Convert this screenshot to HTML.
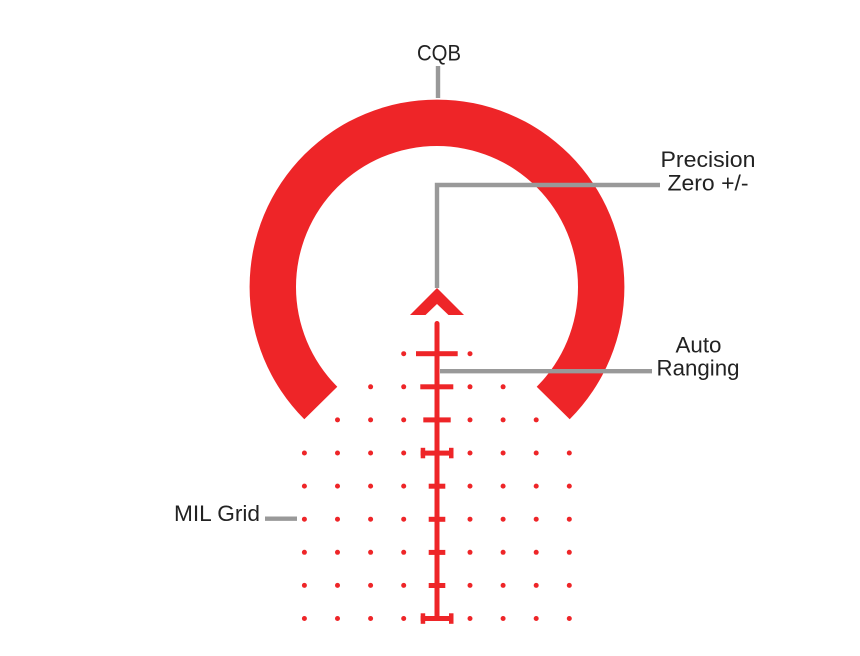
<!DOCTYPE html>
<html>
<head>
<meta charset="utf-8">
<style>
html,body{margin:0;padding:0;background:#fff;width:860px;height:656px;overflow:hidden}
svg{display:block}
text{font-family:"Liberation Sans",sans-serif;font-size:22px;fill:#222}
</style>
</head>
<body>
<svg width="860" height="656" viewBox="0 0 860 656" xmlns="http://www.w3.org/2000/svg">
<!-- Ring -->
<path fill="#ee2528" d="M304.3 419.3A187.4 187.4 0 1 1 569.7 419.3L536.7 386.7A141 141 0 1 0 337.3 386.7Z"/>
<!-- Gray leaders -->
<g fill="none" stroke="#999" stroke-width="4.4">
  <path d="M438 66V98"/>
  <path d="M437 288V185H660"/>
  <path d="M440 371.2H652"/>
  <path d="M265 518.7H297"/>
</g>
<!-- Chevron -->
<path fill="#ee2528" d="M437 288L464 315H448.5L437 304L425.5 315H410Z"/>
<!-- Vertical stem -->
<path fill="none" stroke="#ee2528" stroke-width="5" stroke-linecap="round" d="M437 323.5V618"/>
<!-- Ticks -->
<g fill="#ee2528">
  <rect x="416" y="351.2" width="41.7" height="5"/>
  <rect x="420.3" y="384.3" width="33" height="5"/>
  <rect x="423.3" y="417.4" width="27.4" height="5"/>
  <rect x="420.7" y="450.6" width="32.8" height="5"/>
  <rect x="420.7" y="447.8" width="4.5" height="10.5"/>
  <rect x="449" y="447.8" width="4.5" height="10.5"/>
  <rect x="428.7" y="483.7" width="16.6" height="5"/>
  <rect x="428.7" y="516.8" width="16.6" height="5"/>
  <rect x="428.7" y="549.9" width="16.6" height="5"/>
  <rect x="428.7" y="583" width="16.6" height="5"/>
  <rect x="420.7" y="616" width="32.8" height="5"/>
  <rect x="420.7" y="613.3" width="4.5" height="10.5"/>
  <rect x="449" y="613.3" width="4.5" height="10.5"/>
</g>
<!-- Dots -->
<g fill="#ee2528">
  <circle cx="403.7" cy="353.7" r="2.5"/><circle cx="470" cy="353.7" r="2.5"/>
  <circle cx="370.6" cy="386.8" r="2.5"/><circle cx="403.7" cy="386.8" r="2.5"/><circle cx="470" cy="386.8" r="2.5"/><circle cx="503.1" cy="386.8" r="2.5"/>
  <circle cx="337.5" cy="419.9" r="2.5"/><circle cx="370.6" cy="419.9" r="2.5"/><circle cx="403.7" cy="419.9" r="2.5"/><circle cx="470" cy="419.9" r="2.5"/><circle cx="503.1" cy="419.9" r="2.5"/><circle cx="536.2" cy="419.9" r="2.5"/>
  <circle cx="304.4" cy="453" r="2.5"/><circle cx="337.5" cy="453" r="2.5"/><circle cx="370.6" cy="453" r="2.5"/><circle cx="403.7" cy="453" r="2.5"/><circle cx="470" cy="453" r="2.5"/><circle cx="503.1" cy="453" r="2.5"/><circle cx="536.2" cy="453" r="2.5"/><circle cx="569.3" cy="453" r="2.5"/>
  <circle cx="304.4" cy="486.1" r="2.5"/><circle cx="337.5" cy="486.1" r="2.5"/><circle cx="370.6" cy="486.1" r="2.5"/><circle cx="403.7" cy="486.1" r="2.5"/><circle cx="470" cy="486.1" r="2.5"/><circle cx="503.1" cy="486.1" r="2.5"/><circle cx="536.2" cy="486.1" r="2.5"/><circle cx="569.3" cy="486.1" r="2.5"/>
  <circle cx="304.4" cy="519.2" r="2.5"/><circle cx="337.5" cy="519.2" r="2.5"/><circle cx="370.6" cy="519.2" r="2.5"/><circle cx="403.7" cy="519.2" r="2.5"/><circle cx="470" cy="519.2" r="2.5"/><circle cx="503.1" cy="519.2" r="2.5"/><circle cx="536.2" cy="519.2" r="2.5"/><circle cx="569.3" cy="519.2" r="2.5"/>
  <circle cx="304.4" cy="552.3" r="2.5"/><circle cx="337.5" cy="552.3" r="2.5"/><circle cx="370.6" cy="552.3" r="2.5"/><circle cx="403.7" cy="552.3" r="2.5"/><circle cx="470" cy="552.3" r="2.5"/><circle cx="503.1" cy="552.3" r="2.5"/><circle cx="536.2" cy="552.3" r="2.5"/><circle cx="569.3" cy="552.3" r="2.5"/>
  <circle cx="304.4" cy="585.4" r="2.5"/><circle cx="337.5" cy="585.4" r="2.5"/><circle cx="370.6" cy="585.4" r="2.5"/><circle cx="403.7" cy="585.4" r="2.5"/><circle cx="470" cy="585.4" r="2.5"/><circle cx="503.1" cy="585.4" r="2.5"/><circle cx="536.2" cy="585.4" r="2.5"/><circle cx="569.3" cy="585.4" r="2.5"/>
  <circle cx="304.4" cy="618.5" r="2.5"/><circle cx="337.5" cy="618.5" r="2.5"/><circle cx="370.6" cy="618.5" r="2.5"/><circle cx="403.7" cy="618.5" r="2.5"/><circle cx="470" cy="618.5" r="2.5"/><circle cx="503.1" cy="618.5" r="2.5"/><circle cx="536.2" cy="618.5" r="2.5"/><circle cx="569.3" cy="618.5" r="2.5"/>
</g>
<!-- Labels -->
<text x="417" y="60.7" textLength="44" lengthAdjust="spacingAndGlyphs">CQB</text>
<text x="660.5" y="167" textLength="95" lengthAdjust="spacingAndGlyphs">Precision</text>
<text x="667.5" y="190.5" textLength="81" lengthAdjust="spacingAndGlyphs">Zero +/-</text>
<text x="675.5" y="352.3" textLength="46" lengthAdjust="spacingAndGlyphs">Auto</text>
<text x="656.5" y="375.5" textLength="83" lengthAdjust="spacingAndGlyphs">Ranging</text>
<text x="174" y="521" textLength="86" lengthAdjust="spacingAndGlyphs">MIL Grid</text>
</svg>
</body>
</html>
